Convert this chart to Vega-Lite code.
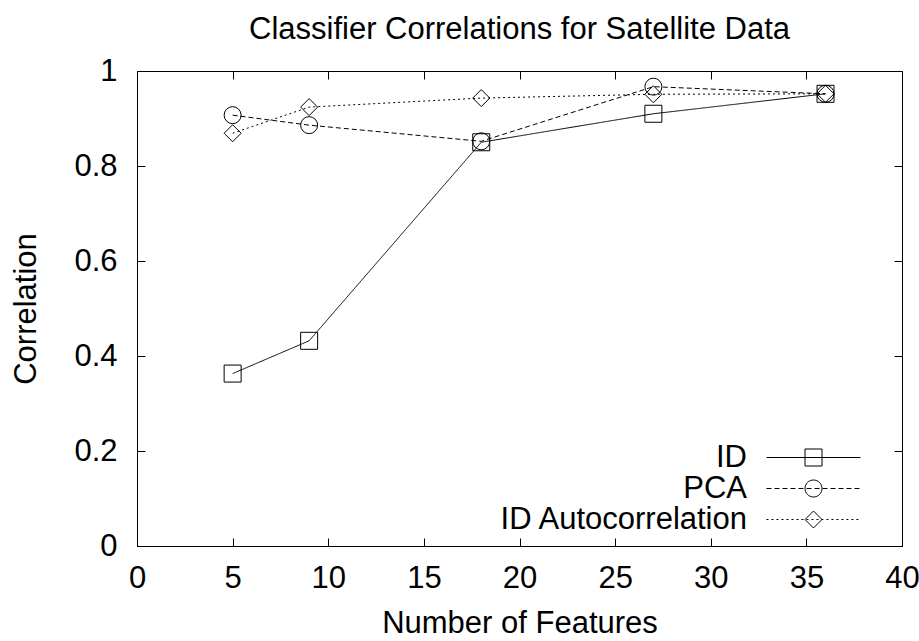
{
  "$schema": "https://vega.github.io/schema/vega-lite/v6.json",
  "width": 765,
  "height": 475,
  "autosize": {"type": "none"},
  "padding": {"left": 137, "top": 71, "right": 17, "bottom": 95},
  "background": "white",
  "config": {
    "view": {"stroke": "black", "strokeWidth": 1},
    "font": "Liberation Sans",
    "axis": {
      "domainColor": "black",
      "tickColor": "black",
      "labelColor": "black",
      "titleColor": "black",
      "labelFont": "Liberation Sans",
      "titleFont": "Liberation Sans",
      "labelFontSize": 31,
      "titleFontSize": 31,
      "titleFontWeight": "normal",
      "grid": false,
      "tickSize": -8,
      "tickWidth": 1,
      "domainWidth": 1
    }
  },
  "title": {
    "text": "Classifier Correlations for Satellite Data",
    "font": "Liberation Sans",
    "fontSize": 31,
    "fontWeight": "normal",
    "color": "black",
    "offset": 9
  },
  "data": {
    "values": [
      {"features": 5, "corr": 0.363, "series": "ID"},
      {"features": 9, "corr": 0.432, "series": "ID"},
      {"features": 18, "corr": 0.850, "series": "ID"},
      {"features": 27, "corr": 0.910, "series": "ID"},
      {"features": 36, "corr": 0.952, "series": "ID"},
      {"features": 5, "corr": 0.907, "series": "PCA"},
      {"features": 9, "corr": 0.886, "series": "PCA"},
      {"features": 18, "corr": 0.852, "series": "PCA"},
      {"features": 27, "corr": 0.967, "series": "PCA"},
      {"features": 36, "corr": 0.952, "series": "PCA"},
      {"features": 5, "corr": 0.869, "series": "ID Autocorrelation"},
      {"features": 9, "corr": 0.924, "series": "ID Autocorrelation"},
      {"features": 18, "corr": 0.943, "series": "ID Autocorrelation"},
      {"features": 27, "corr": 0.951, "series": "ID Autocorrelation"},
      {"features": 36, "corr": 0.952, "series": "ID Autocorrelation"}
    ]
  },
  "resolve": {
    "scale": {"shape": "independent"},
    "axis": {"x": "independent", "y": "independent"}
  },
  "layer": [
    {
      "mark": {"type": "line", "color": "black", "strokeWidth": 1},
      "encoding": {
        "x": {
          "field": "features", "type": "quantitative",
          "scale": {"domain": [0, 40], "nice": false},
          "axis": {"orient": "bottom", "values": [0, 5, 10, 15, 20, 25, 30, 35, 40], "format": "~g", "title": "Number of Features", "labelPadding": 25, "titlePadding": 15, "labelFlush": false}
        },
        "y": {
          "field": "corr", "type": "quantitative",
          "scale": {"domain": [0, 1], "nice": false},
          "axis": {"orient": "left", "values": [0, 0.2, 0.4, 0.6, 0.8, 1], "format": "~g", "title": "Correlation", "labelPadding": 28, "titlePadding": 31, "labelFlush": false}
        },
        "strokeDash": {
          "field": "series", "type": "nominal",
          "scale": {"domain": ["ID", "PCA", "ID Autocorrelation"], "range": [[1, 0], [5, 3], [2, 3]]},
          "legend": null
        },
        "detail": {"field": "series"}
      }
    },
    {
      "mark": {"type": "point", "filled": false, "color": "black", "strokeWidth": 1, "size": 289, "opacity": 1},
      "encoding": {
        "x": {
          "field": "features", "type": "quantitative",
          "axis": {"orient": "top", "values": [0, 5, 10, 15, 20, 25, 30, 35, 40], "labels": false, "title": null}
        },
        "y": {
          "field": "corr", "type": "quantitative",
          "axis": {"orient": "right", "values": [0, 0.2, 0.4, 0.6, 0.8, 1], "labels": false, "title": null}
        },
        "shape": {
          "field": "series", "type": "nominal",
          "scale": {"domain": ["ID", "PCA", "ID Autocorrelation"], "range": ["square", "circle", "diamond"]},
          "legend": null
        }
      }
    },
    {
      "transform": [{"filter": "datum.features < 0"}],
      "mark": {"type": "point", "filled": false, "color": "black", "strokeWidth": 1, "size": 289, "opacity": 1},
      "encoding": {
        "x": {"field": "features", "type": "quantitative", "axis": null},
        "y": {"field": "corr", "type": "quantitative", "axis": null},
        "shape": {
          "field": "series", "type": "nominal",
          "scale": {
            "domain": ["ID", "PCA", "ID Autocorrelation"],
            "range": [
              "M-5.53,0H5.53M-1,-1H1V1H-1Z",
              "M-5.53,0h0.588M-4.59,0h0.588M-3.65,0h0.588M-2.71,0h0.588M-1.77,0h0.588M-0.82,0h0.588M0.12,0h0.588M1.06,0h0.588M2.00,0h0.588M2.94,0h0.588M3.88,0h0.588M4.82,0h0.588M-1,0A1,1 0 1,0 1,0A1,1 0 1,0 -1,0Z",
              "M-5.53,0h0.235M-4.94,0h0.235M-4.36,0h0.235M-3.77,0h0.235M-3.18,0h0.235M-2.59,0h0.235M-2.00,0h0.235M-1.42,0h0.235M-0.83,0h0.235M-0.24,0h0.235M0.35,0h0.235M0.93,0h0.235M1.52,0h0.235M2.11,0h0.235M2.70,0h0.235M3.29,0h0.235M3.87,0h0.235M4.46,0h0.235M5.05,0h0.235M-1,0L0,-1L1,0L0,1Z"
            ]
          },
          "legend": {
            "orient": "none",
            "legendX": 661,
            "legendY": 371,
            "title": null,
            "padding": 0,
            "labelFont": "Liberation Sans",
            "labelFontSize": 31,
            "labelColor": "black",
            "labelAlign": "right",
            "labelBaseline": "middle",
            "labelOffset": -82,
            "labelLimit": 500,
            "rowPadding": -2,
            "symbolSize": 289,
            "symbolStrokeColor": "black",
            "symbolStrokeWidth": 1,
            "symbolFillColor": "transparent"
          }
        }
      }
    }
  ]
}
